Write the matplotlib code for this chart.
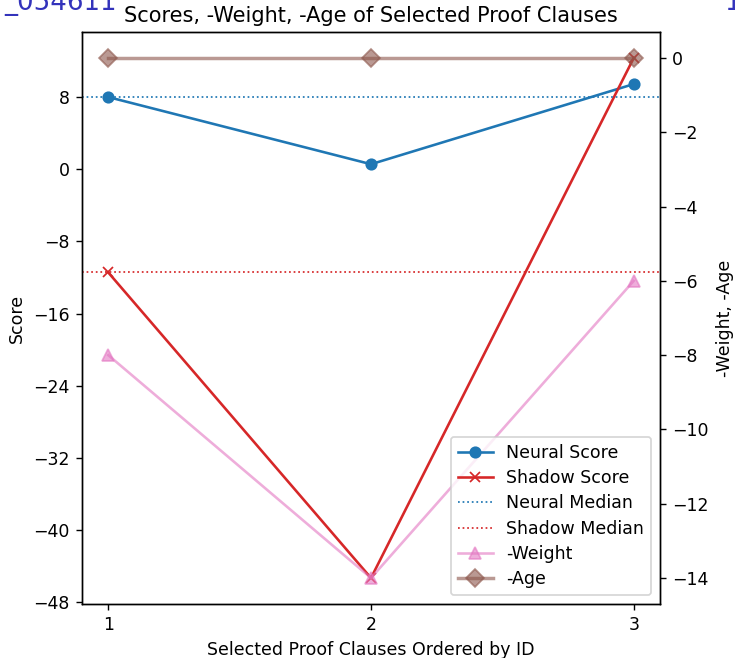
import matplotlib
matplotlib.use("Agg")
import matplotlib.pyplot as plt
from matplotlib.ticker import MultipleLocator

clause_ids = [1, 2, 3]
neural_scores = [8.0, 0.56, 9.44]
shadow_scores = [-11.44, -45.3, 12.33]
neg_weight = [-8, -14, -6]
neg_age = [0, 0, 0]

neural_median = sorted(neural_scores)[1]
shadow_median = sorted(shadow_scores)[1]

DPI = 125
fig = plt.figure(figsize=(735/DPI, 658/DPI), dpi=DPI)
ax = fig.add_axes([82/735, 1-604/658, (660-82)/735, (604-32)/658])

l1, = ax.plot(clause_ids, neural_scores, color='tab:blue', marker='o', label='Neural Score')
l2, = ax.plot(clause_ids, shadow_scores, color='tab:red', marker='x', label='Shadow Score')
l3 = ax.axhline(neural_median, color='tab:blue', linestyle=':', linewidth=1, label='Neural Median')
l4 = ax.axhline(shadow_median, color='tab:red', linestyle=':', linewidth=1, label='Shadow Median')
ax.set_xlabel('Selected Proof Clauses Ordered by ID')
ax.set_ylabel('Score')
ax.set_xticks(clause_ids)
ax.yaxis.set_major_locator(MultipleLocator(8))
ax.set_title('Scores, -Weight, -Age of Selected Proof Clauses')

ax2 = ax.twinx()
l5, = ax2.plot(clause_ids, neg_weight, color='tab:pink', marker='^', alpha=0.6, markersize=7, label='-Weight')
l6, = ax2.plot(clause_ids, neg_age, color='tab:brown', marker='D', alpha=0.6, markersize=7, linewidth=2, label='-Age')
ax2.set_ylabel('-Weight, -Age')

handles = [l1, l2, l3, l4, l5, l6]
ax2.legend(handles, [h.get_label() for h in handles], loc='lower right', labelspacing=0.42)

fig.text(117/735, 1-10/658, '_054611', color='#3333bb', fontsize=15, ha='right', va='baseline')
fig.text(724/735, 1-10/658, '1', color='#3333bb', fontsize=15, ha='left', va='baseline')

fig.savefig('out.png', dpi=DPI)
